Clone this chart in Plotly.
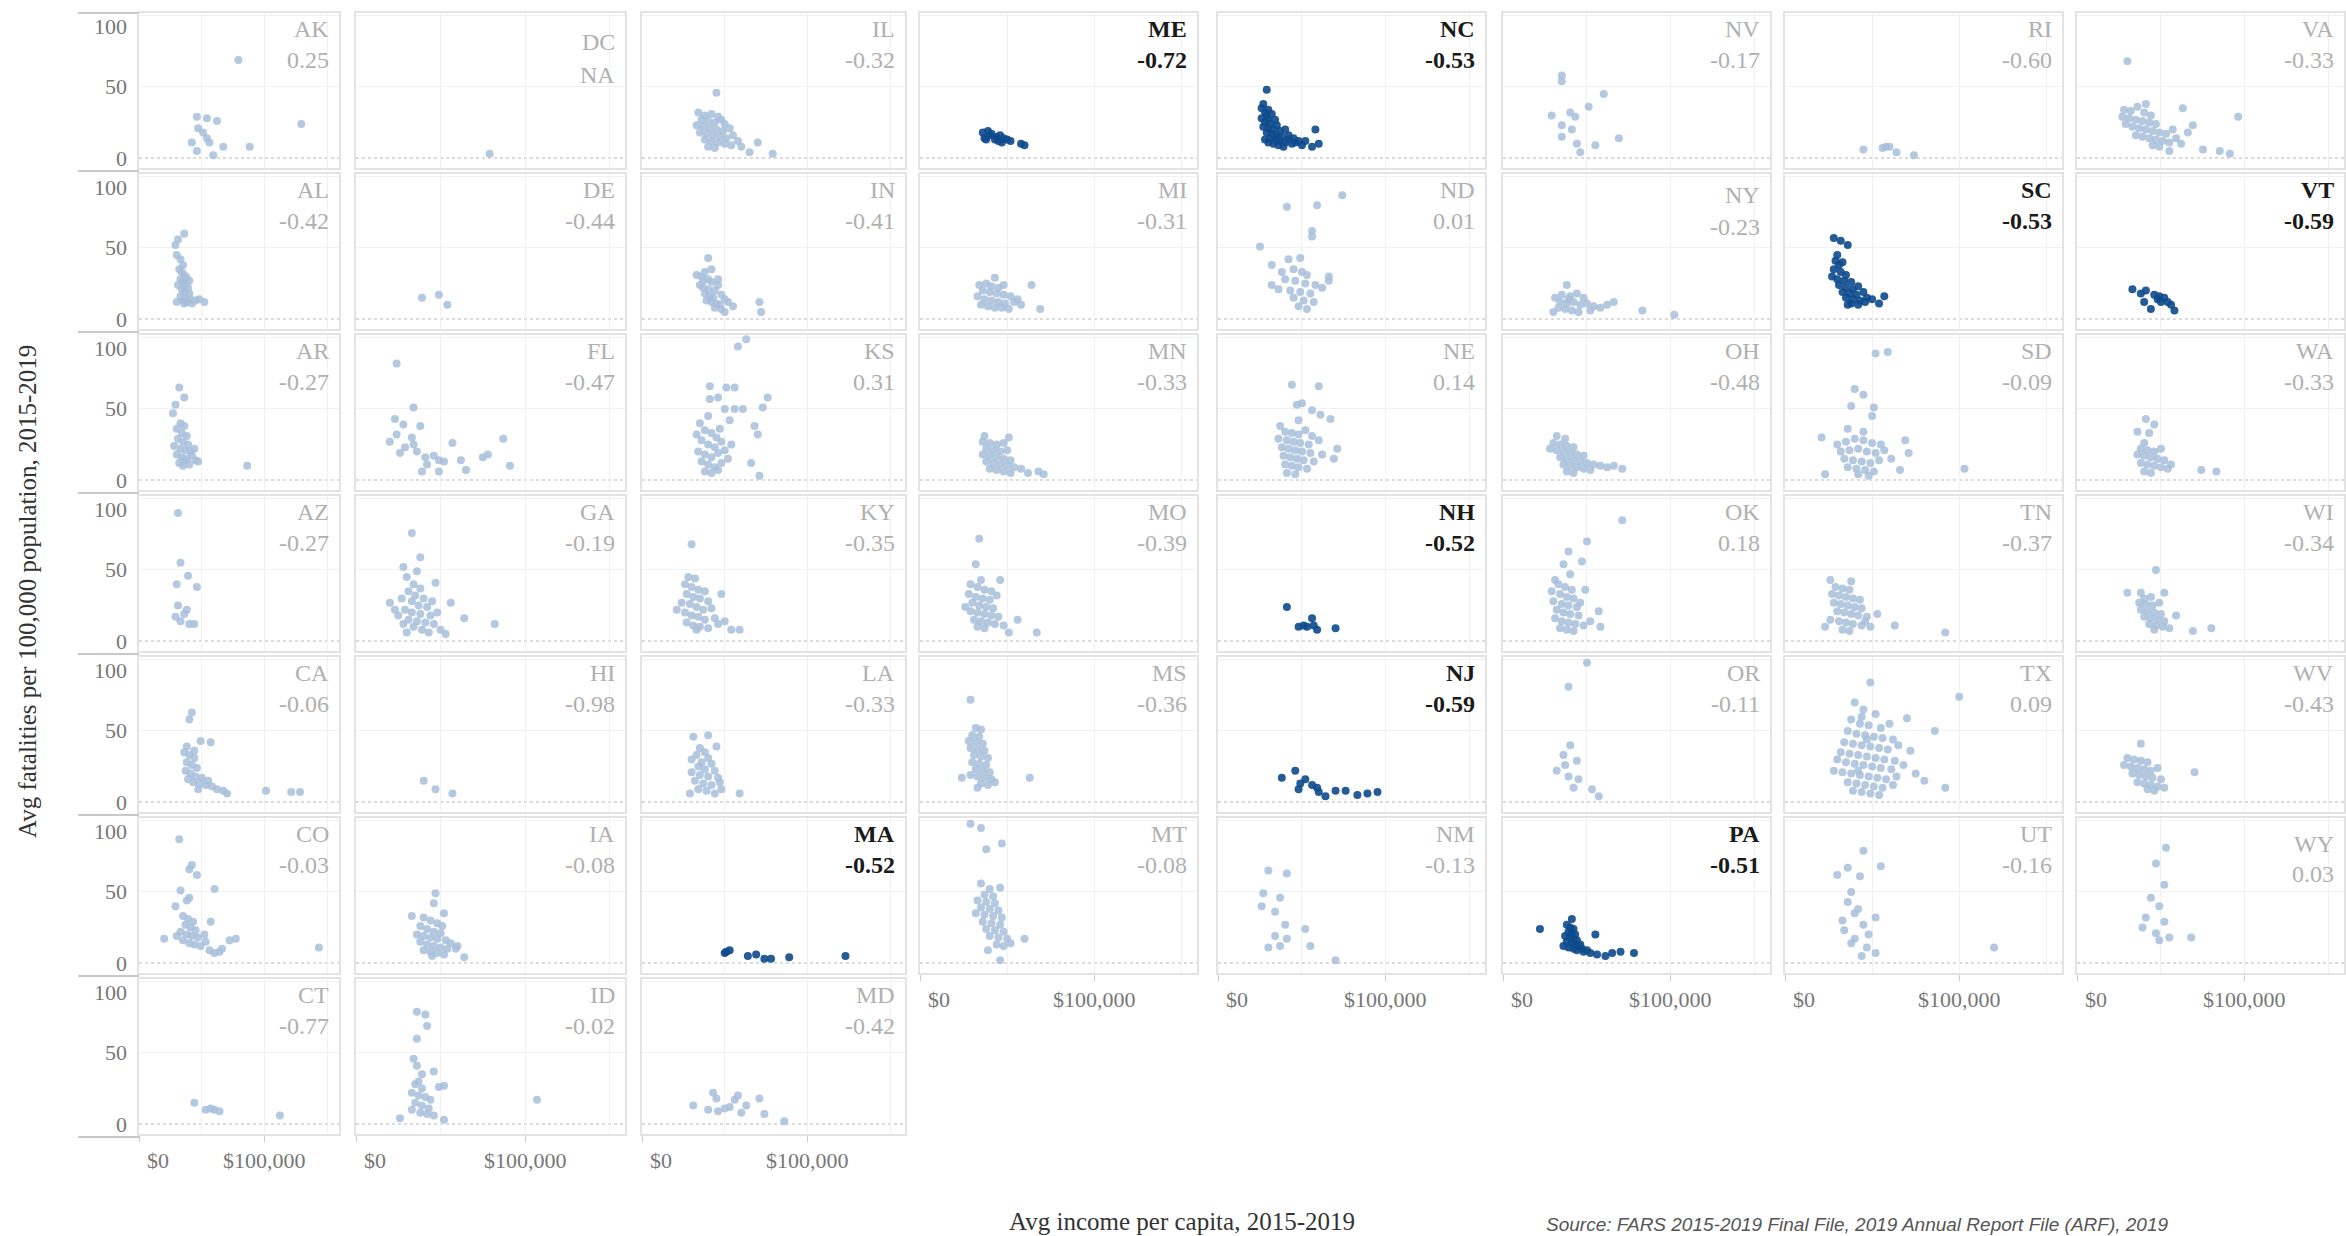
import plotly.graph_objects as go

# ---------------- data (income in $ thousands, fatalities per 100k) ----------------
COLUMNS = [
    ["AK", "AL", "AR", "AZ", "CA", "CO", "CT"],
    ["DC", "DE", "FL", "GA", "HI", "IA", "ID"],
    ["IL", "IN", "KS", "KY", "LA", "MA", "MD"],
    ["ME", "MI", "MN", "MO", "MS", "MT"],
    ["NC", "ND", "NE", "NH", "NJ", "NM"],
    ["NV", "NY", "OH", "OK", "OR", "PA"],
    ["RI", "SC", "SD", "TN", "TX", "UT"],
    ["VA", "VT", "WA", "WI", "WV", "WY"],
]

CORR = {
    "AK": "0.25", "DC": "NA", "IL": "-0.32", "ME": "-0.72", "NC": "-0.53", "NV": "-0.17", "RI": "-0.60", "VA": "-0.33",
    "AL": "-0.42", "DE": "-0.44", "IN": "-0.41", "MI": "-0.31", "ND": "0.01", "NY": "-0.23", "SC": "-0.53", "VT": "-0.59",
    "AR": "-0.27", "FL": "-0.47", "KS": "0.31", "MN": "-0.33", "NE": "0.14", "OH": "-0.48", "SD": "-0.09", "WA": "-0.33",
    "AZ": "-0.27", "GA": "-0.19", "KY": "-0.35", "MO": "-0.39", "NH": "-0.52", "OK": "0.18", "TN": "-0.37", "WI": "-0.34",
    "CA": "-0.06", "HI": "-0.98", "LA": "-0.33", "MS": "-0.36", "NJ": "-0.59", "OR": "-0.11", "TX": "0.09", "WV": "-0.43",
    "CO": "-0.03", "IA": "-0.08", "MA": "-0.52", "MT": "-0.08", "NM": "-0.13", "PA": "-0.51", "UT": "-0.16", "WY": "0.03",
    "CT": "-0.77", "ID": "-0.02", "MD": "-0.42",
}

HIGHLIGHT = ["ME", "NC", "SC", "VT", "NH", "NJ", "MA", "PA"]

PTS_AK = [(79,69),(129,24),(88,8),(46,29),(54,28),(62,26),(47,21),(51,18),(54,14),(42,11),(56,11),(67,8),(46,5),(59,2)]
PTS_DC = [(79,3)]
PTS_IL = [(45,46),(34,32),(38,30),(42,31),(46,29),(36,27),(40,26),(44,25),(48,27),(50,24),(33,23),(37,22),(41,21),(45,20),(49,19),(53,21),(35,18),(39,17),(43,16),(47,15),(51,14),(55,16),(38,13),(42,12),(46,11),(50,10),(54,9),(40,8),(44,7),(58,12),(70,11),(79,3),(65,4),(60,8)]
PTS_ME = [(36,18),(40,16),(38,13),(44,15),(48,14),(52,12),(58,10),(39,19),(43,13),(47,11),(50,13),(41,17),(45,12),(60,9),(37,14),(46,16)]
PTS_NC = [(29,48),(27,38),(28,32),(26,35),(30,34),(29,30),(32,31),(26,28),(30,27),(34,27),(28,25),(31,24),(35,23),(27,22),(30,21),(33,20),(37,19),(40,20),(29,18),(32,17),(35,16),(38,15),(42,16),(45,14),(31,14),(34,13),(37,12),(40,11),(44,10),(48,12),(30,11),(33,10),(36,9),(39,8),(50,9),(58,20),(56,8),(60,10),(42,13),(46,11),(52,12),(35,14),(28,13)]
PTS_NV = [(35,58),(35,54),(60,45),(29,30),(40,32),(43,29),(51,36),(35,23),(41,20),(35,15),(44,10),(55,9),(69,14),(46,4)]
PTS_RI = [(45,6),(56,7),(60,8),(64,4),(74,2),(58,8)]
PTS_VA = [(30,68),(63,35),(96,29),(75,6),(85,5),(91,3),(41,38),(69,23),(28,34),(32,33),(36,36),(40,32),(44,30),(27,29),(31,28),(35,27),(39,26),(43,25),(47,24),(29,24),(33,22),(37,21),(41,20),(45,19),(49,18),(53,17),(35,16),(39,15),(43,14),(47,13),(51,12),(55,11),(59,14),(62,10),(49,8),(55,5),(45,9),(66,18),(57,20)]

PTS_AL = [(36,60),(31,56),(29,52),(30,45),(33,42),(35,38),(32,35),(34,33),(36,31),(38,29),(33,28),(35,26),(37,24),(39,22),(34,21),(36,19),(40,18),(33,16),(37,15),(41,14),(35,13),(38,12),(45,13),(52,12),(30,12),(36,11),(42,11),(48,14),(31,24),(40,27)]
PTS_DE = [(39,15),(49,17),(54,10)]
PTS_IN = [(40,43),(33,31),(36,30),(38,33),(40,28),(42,26),(35,24),(37,22),(40,21),(44,20),(46,24),(38,18),(41,16),(43,15),(48,17),(50,14),(39,13),(42,12),(45,11),(47,10),(52,12),(55,9),(44,8),(48,7),(50,5),(71,12),(72,5),(37,27),(46,28),(42,35)]
PTS_MI = [(43,29),(34,24),(38,25),(41,23),(45,22),(48,24),(36,20),(40,19),(44,18),(48,17),(52,16),(33,16),(37,14),(41,13),(45,12),(49,11),(54,12),(58,10),(35,10),(39,9),(43,8),(47,8),(51,7),(64,24),(69,7),(56,14)]
PTS_ND = [(74,87),(59,80),(41,79),(56,62),(56,58),(25,51),(42,42),(49,43),(32,38),(38,33),(53,31),(66,27),(32,24),(45,35),(50,33),(40,28),(46,27),(52,25),(58,24),(36,21),(43,20),(49,19),(55,18),(62,22),(45,15),(51,13),(57,12),(48,9),(53,7),(66,30)]
PTS_NY = [(38,24),(31,15),(35,17),(40,16),(44,18),(48,15),(34,12),(38,11),(42,12),(46,10),(50,11),(54,9),(58,8),(62,10),(66,12),(33,8),(37,7),(41,6),(45,5),(52,6),(39,14),(83,6),(102,3),(30,5)]
PTS_SC = [(28,57),(32,55),(36,52),(30,45),(31,38),(27,30),(29,41),(33,40),(28,35),(32,33),(35,31),(30,28),(34,27),(38,26),(31,24),(35,22),(39,21),(42,23),(33,19),(37,18),(41,17),(45,19),(35,15),(39,14),(43,13),(47,15),(38,11),(42,10),(46,12),(50,14),(57,16),(54,11),(36,10)]
PTS_VT = [(33,21),(38,18),(41,20),(46,17),(49,16),(52,15),(56,10),(58,6),(44,7),(40,12),(50,12),(54,12),(48,14)]

PTS_AR = [(32,65),(36,58),(29,53),(27,47),(33,40),(36,38),(30,36),(34,33),(38,31),(31,29),(35,27),(39,25),(28,24),(33,22),(37,21),(41,20),(30,18),(34,16),(38,15),(42,17),(45,14),(36,13),(32,12),(40,11),(47,13),(86,10),(35,10),(44,22)]
PTS_FL = [(24,82),(34,51),(23,43),(28,39),(20,27),(24,32),(33,30),(38,38),(29,23),(36,20),(41,16),(46,17),(49,14),(39,6),(49,6),(57,26),(62,14),(65,7),(75,16),(78,18),(87,29),(91,10),(42,11),(52,13),(34,25),(26,19)]
PTS_KS = [(58,94),(63,99),(41,66),(51,65),(56,65),(41,57),(46,58),(61,50),(50,50),(56,50),(76,58),(73,51),(40,45),(53,42),(68,38),(70,32),(66,12),(71,3),(35,40),(38,35),(42,33),(45,30),(36,28),(40,25),(44,23),(48,27),(34,20),(38,18),(42,16),(46,19),(50,21),(36,13),(40,11),(44,9),(48,12),(52,15),(38,6),(42,5),(46,7),(54,25),(33,32),(47,36)]
PTS_MN = [(37,31),(51,30),(36,27),(40,26),(44,25),(48,26),(38,22),(42,21),(46,20),(50,21),(36,18),(40,17),(44,16),(48,15),(52,14),(38,13),(42,12),(46,11),(50,10),(54,9),(40,8),(44,7),(48,6),(52,5),(58,8),(68,6),(71,4),(62,5)]
PTS_NE = [(44,67),(60,66),(47,53),(50,54),(56,49),(61,46),(67,43),(37,38),(48,42),(40,34),(44,33),(48,32),(52,35),(56,31),(36,29),(41,28),(45,27),(49,26),(54,25),(60,28),(38,23),(42,22),(46,21),(50,20),(55,19),(39,17),(43,16),(47,15),(51,14),(57,13),(40,11),(44,10),(48,9),(53,8),(41,5),(46,4),(71,22),(69,15),(62,18)]
PTS_OH = [(32,31),(37,29),(30,26),(34,25),(38,24),(42,23),(28,22),(32,21),(36,20),(40,19),(44,18),(48,17),(34,16),(38,15),(42,14),(46,13),(50,12),(54,11),(36,11),(40,10),(44,9),(48,8),(52,7),(58,10),(62,9),(66,10),(71,8),(38,6),(42,5)]
PTS_SD = [(52,89),(59,90),(40,64),(45,60),(38,52),(51,51),(50,45),(36,36),(45,34),(21,30),(69,28),(71,19),(61,15),(66,7),(23,4),(103,8),(30,25),(35,27),(40,29),(45,28),(50,26),(55,25),(32,20),(37,21),(42,22),(47,20),(52,19),(57,21),(34,15),(39,14),(44,13),(49,12),(54,14),(36,9),(41,8),(46,7),(51,6),(42,4),(48,3)]
PTS_WA = [(41,43),(46,39),(36,34),(43,33),(40,26),(38,22),(42,21),(46,20),(50,22),(36,18),(40,17),(44,16),(48,15),(52,14),(38,12),(42,11),(46,10),(50,9),(54,8),(56,11),(40,6),(44,5),(74,7),(83,6)]

PTS_AZ = [(31,90),(33,55),(39,46),(30,40),(46,38),(31,25),(38,22),(29,17),(33,14),(40,12),(44,12),(36,19)]
PTS_GA = [(33,76),(38,59),(28,52),(36,49),(47,41),(20,27),(56,27),(30,45),(34,40),(38,37),(31,35),(35,32),(40,30),(27,30),(33,28),(37,25),(42,24),(29,22),(33,20),(38,19),(44,18),(25,18),(31,15),(36,14),(41,13),(46,12),(28,12),(34,10),(39,8),(43,6),(30,6),(50,8),(53,5),(64,16),(82,12),(48,20),(45,28),(23,22)]
PTS_KY = [(30,68),(48,33),(21,22),(59,8),(54,8),(28,45),(32,44),(26,40),(30,38),(34,36),(38,35),(27,33),(31,31),(35,30),(40,28),(24,27),(29,26),(33,24),(37,22),(42,23),(26,20),(30,18),(34,17),(38,15),(44,16),(27,13),(31,11),(35,10),(40,9),(46,12),(50,14),(33,8)]
PTS_MO = [(34,72),(32,54),(35,43),(46,43),(29,40),(33,38),(37,36),(41,35),(28,33),(32,31),(36,30),(40,29),(44,32),(30,27),(34,25),(38,24),(42,23),(29,21),(33,20),(37,19),(41,18),(45,17),(31,15),(35,14),(39,13),(43,12),(48,11),(33,10),(37,9),(56,15),(51,6),(67,6),(26,24)]
PTS_NH = [(41,24),(56,16),(57,11),(53,10),(48,10),(59,8),(70,9),(51,11)]
PTS_OK = [(71,85),(50,70),(39,63),(47,56),(36,54),(40,47),(31,43),(49,36),(57,21),(58,10),(33,40),(37,38),(41,36),(29,35),(34,33),(38,31),(42,30),(30,28),(35,26),(39,25),(44,24),(32,22),(36,20),(40,19),(45,18),(31,16),(35,14),(39,13),(43,12),(48,11),(34,9),(38,8),(42,7),(52,14),(46,27)]
PTS_TN = [(26,43),(38,42),(29,38),(33,37),(37,36),(27,33),(31,32),(35,31),(39,30),(43,29),(28,27),(32,26),(36,25),(40,24),(44,23),(30,21),(34,20),(38,19),(42,18),(47,17),(53,19),(26,15),(31,14),(35,13),(39,12),(44,11),(49,10),(33,8),(37,7),(23,10),(63,11),(92,6),(46,14)]
PTS_WI = [(47,50),(30,34),(38,34),(52,34),(40,30),(44,31),(37,27),(41,26),(45,25),(49,27),(38,22),(42,21),(46,20),(50,19),(40,17),(44,16),(48,15),(52,14),(43,12),(47,11),(51,10),(55,9),(59,18),(69,7),(80,9),(46,8)]

PTS_CA = [(42,63),(40,58),(38,39),(49,43),(57,42),(36,35),(40,33),(44,31),(38,28),(42,26),(46,24),(37,22),(41,20),(45,18),(50,17),(39,16),(43,14),(48,13),(53,12),(58,11),(62,9),(67,8),(55,15),(47,9),(70,6),(101,8),(121,7),(128,7),(44,36)]
PTS_HI = [(40,15),(47,9),(57,6)]
PTS_LA = [(31,46),(40,47),(45,39),(35,38),(38,35),(33,33),(40,31),(30,30),(36,28),(42,27),(34,25),(38,23),(44,22),(30,21),(35,19),(40,18),(46,17),(32,15),(37,13),(42,12),(47,14),(34,9),(39,8),(44,6),(29,6),(59,6),(48,9)]
PTS_MS = [(29,72),(32,52),(35,51),(30,47),(34,46),(28,43),(32,42),(36,41),(29,38),(33,37),(37,36),(31,33),(35,32),(39,31),(30,28),(34,27),(38,26),(32,23),(36,22),(40,21),(29,19),(33,18),(37,17),(41,16),(24,17),(35,13),(39,12),(43,14),(33,10),(63,17)]
PTS_NJ = [(38,17),(46,22),(49,13),(52,16),(56,12),(59,10),(64,4),(70,8),(76,8),(83,5),(89,6),(95,7),(48,9),(60,7)]
PTS_OR = [(50,98),(39,81),(40,40),(36,33),(44,29),(32,22),(39,18),(45,16),(42,10),(53,9),(57,4),(37,26)]
PTS_TX = [(49,84),(100,74),(70,59),(86,50),(40,70),(45,65),(52,62),(38,58),(43,55),(48,54),(55,52),(60,55),(36,50),(41,48),(46,47),(51,46),(56,45),(62,44),(34,42),(39,41),(44,40),(49,39),(54,38),(59,37),(65,40),(72,36),(32,35),(37,34),(42,33),(47,32),(52,31),(57,30),(63,29),(35,28),(40,27),(45,26),(50,25),(55,24),(61,23),(68,26),(33,21),(38,20),(43,19),(48,18),(53,17),(58,16),(64,18),(36,14),(41,13),(46,12),(51,11),(56,10),(62,12),(39,8),(44,7),(49,6),(54,5),(75,20),(80,15),(92,10),(30,30),(28,22),(42,22),(47,44),(44,60)]
PTS_WV = [(38,41),(30,31),(34,30),(38,29),(42,28),(28,26),(32,25),(36,24),(40,23),(44,22),(48,24),(33,20),(37,19),(41,18),(45,17),(50,16),(36,14),(40,13),(44,12),(48,11),(52,10),(70,21),(42,9),(46,8)]

PTS_CO = [(32,87),(42,69),(40,66),(46,62),(60,52),(33,51),(29,40),(40,46),(38,44),(57,29),(20,17),(35,33),(39,31),(43,29),(37,27),(41,25),(45,23),(33,22),(38,20),(42,19),(47,18),(35,16),(40,14),(44,13),(49,12),(53,15),(56,9),(60,7),(64,8),(66,10),(77,17),(72,16),(143,11),(30,19),(52,20)]
PTS_IA = [(47,49),(46,42),(33,33),(52,35),(40,32),(44,30),(48,28),(51,26),(38,26),(42,24),(46,22),(50,21),(36,20),(40,19),(44,18),(48,17),(53,16),(56,14),(38,15),(42,13),(46,12),(50,11),(54,10),(59,10),(40,9),(44,8),(48,7),(52,6),(60,12),(64,4),(45,5)]
PTS_MA = [(51,8),(53,9),(64,5),(69,6),(78,3),(89,4),(123,5),(50,7),(74,3)]
PTS_MT = [(29,98),(35,95),(38,80),(47,84),(35,56),(46,53),(40,52),(37,48),(42,47),(33,44),(38,43),(43,42),(35,39),(40,38),(45,37),(32,35),(37,34),(42,33),(47,32),(36,29),(41,28),(46,27),(38,24),(43,23),(48,22),(40,19),(45,18),(50,17),(60,17),(44,13),(48,12),(52,14),(46,2),(39,9)]
PTS_NM = [(30,65),(41,63),(27,49),(37,46),(26,40),(34,36),(40,27),(52,24),(34,19),(37,12),(55,12),(70,2),(41,17),(30,11)]
PTS_PA = [(22,24),(41,31),(38,27),(40,25),(42,24),(39,22),(41,21),(43,20),(37,19),(40,18),(42,17),(44,16),(38,15),(41,14),(43,13),(45,12),(39,11),(42,10),(44,9),(47,10),(50,9),(55,20),(48,8),(52,7),(56,6),(61,5),(65,7),(70,8),(78,7),(46,13),(36,12)]
PTS_UT = [(45,79),(36,67),(55,68),(43,61),(30,62),(36,43),(52,32),(34,23),(40,17),(47,11),(52,7),(120,11),(38,50),(42,38),(33,30),(45,27),(48,20),(38,14),(44,5),(40,35)]
PTS_WY = [(53,81),(47,70),(52,55),(44,46),(49,40),(41,32),(52,29),(39,25),(47,21),(55,18),(68,18),(49,16)]

PTS_CT = [(44,15),(53,10),(60,10),(64,9),(112,6),(57,11)]
PTS_ID = [(36,79),(41,77),(42,69),(36,60),(34,46),(36,41),(39,35),(46,37),(52,27),(49,26),(37,30),(35,28),(39,25),(33,22),(37,20),(41,19),(44,17),(35,15),(39,13),(43,11),(33,10),(38,8),(42,7),(46,6),(26,4),(52,3),(107,17)]
PTS_MD = [(31,13),(43,22),(45,18),(50,11),(56,17),(63,13),(71,18),(74,7),(86,2),(40,10),(53,12),(60,8),(46,9),(58,20)]

POINTS = {k[4:]: v for k, v in dict(globals()).items() if k.startswith("PTS_")}

# ---------------- styling / geometry (pixels) ----------------
W, H = 2346, 1236
COL_X = [(139, 339), (356, 625), (642, 905), (920, 1197), (1218, 1485),
         (1503, 1770), (1785, 2062), (2077, 2344)]
ROW_TOP0, ROW_STEP, ROW_H = 13, 161, 155
X_RANGE = [0, 159000]
Y_RANGE = [-7, 102]
LIGHT = "#a7bedb"
DARK = "#0d4a8c"
SERIF = "Liberation Serif, Times New Roman, serif"
LABEL_SHIFT = {"DC": (13, 15), "NY": (5, 6), "WY": (10, 9)}

def px_x(p):
    return p / W

def px_y(p):
    return 1 - p / H

fig = go.Figure()
layout = dict(
    width=W, height=H, margin=dict(l=0, r=0, t=0, b=0),
    paper_bgcolor="white", plot_bgcolor="white", showlegend=False,
    font=dict(family=SERIF, color="#777777"),
)
annotations = []
shapes = []

idx = 0
for c, col in enumerate(COLUMNS):
    x0, x1 = COL_X[c]
    for r, st in enumerate(col):
        idx += 1
        sfx = "" if idx == 1 else str(idx)
        xa, ya = "x" + sfx, "y" + sfx
        top = ROW_TOP0 + r * ROW_STEP
        bot = top + ROW_H
        hl = st in HIGHLIGHT
        pts = POINTS[st]
        fig.add_trace(go.Scatter(
            x=[p[0] * 1000 for p in pts], y=[p[1] for p in pts],
            mode="markers", xaxis=xa, yaxis=ya, hoverinfo="skip",
            marker=dict(size=8, color=DARK if hl else LIGHT, opacity=0.9 if hl else 0.85,
                        line=dict(width=0)),
        ))
        last = (r == len(col) - 1)
        layout["xaxis" + sfx] = dict(
            domain=[px_x(x0), px_x(x1)], anchor=ya, range=X_RANGE,
            tickvals=[0, 100000], showticklabels=False,
            ticks="outside" if last else "", ticklen=6, tickcolor="#cccccc",
            showgrid=True, gridcolor="#f1f1f1", gridwidth=1,
            minor=dict(tickvals=[50000, 150000], showgrid=True, gridcolor="#f1f1f1", ticks=""),
            showline=True, mirror=True, linecolor="#e3e3e3", linewidth=1.5,
            zeroline=False, fixedrange=True,
        )
        layout["yaxis" + sfx] = dict(
            domain=[px_y(bot), px_y(top)], anchor=xa, range=Y_RANGE,
            tickvals=[50, 100], showticklabels=False, ticks="",
            showgrid=True, gridcolor="#f1f1f1", gridwidth=1,
            showline=True, mirror=True, linecolor="#e3e3e3", linewidth=1.5,
            zeroline=False, fixedrange=True,
        )
        # dotted zero line
        shapes.append(dict(type="line", xref=xa + " domain", yref=ya, x0=0, x1=1, y0=0, y1=0,
                           line=dict(color="#cfcfcf", width=1.5, dash="dot"), layer="below"))
        # state label + correlation
        dy1, dy2 = LABEL_SHIFT.get(st, (0, 0))
        lab_col = "#1a1a1a" if hl else "#b0b0b0"
        annotations.append(dict(
            xref=xa + " domain", yref=ya + " domain", x=1, y=1, xanchor="right", yanchor="middle",
            xshift=-8, yshift=-16 - dy1, showarrow=False,
            text=("<b>%s</b>" % st) if hl else st,
            font=dict(family=SERIF, size=24, color=lab_col)))
        annotations.append(dict(
            xref=xa + " domain", yref=ya + " domain", x=1, y=1, xanchor="right", yanchor="middle",
            xshift=-8, yshift=-47 - dy2, showarrow=False,
            text=("<b>%s</b>" % CORR[st]) if hl else CORR[st],
            font=dict(family=SERIF, size=24, color=lab_col)))
        # y tick labels on the first column
        if c == 0:
            for v, shift in ((100, -11), (50, 0), (0, 0)):
                annotations.append(dict(
                    xref="paper", yref=ya, x=px_x(x0 - 10), y=v, xanchor="right", yanchor="middle",
                    yshift=shift, showarrow=False, text=str(v),
                    font=dict(family=SERIF, size=22, color="#777777")))
            shapes.append(dict(type="line", xref="paper", yref="paper",
                               x0=px_x(78), x1=px_x(x0), y0=px_y(bot + 3), y1=px_y(bot + 3),
                               line=dict(color="#c9c9c9", width=2)))
            if r == 0:
                shapes.append(dict(type="line", xref="paper", yref="paper",
                                   x0=px_x(78), x1=px_x(x0), y0=px_y(top), y1=px_y(top),
                                   line=dict(color="#c9c9c9", width=2)))
        # x tick labels under the last panel of each column
        if last:
            annotations.append(dict(
                xref=xa, yref="paper", x=0, y=px_y(bot + 26), xanchor="left", yanchor="middle",
                xshift=6, showarrow=False, text="$0",
                font=dict(family=SERIF, size=22, color="#777777")))
            annotations.append(dict(
                xref=xa, yref="paper", x=100000, y=px_y(bot + 26), xanchor="center", yanchor="middle",
                showarrow=False, text="$100,000",
                font=dict(family=SERIF, size=22, color="#777777")))

# axis titles and source
annotations.append(dict(
    xref="paper", yref="paper", x=px_x(27), y=px_y(592), xanchor="center", yanchor="middle",
    textangle=-90, showarrow=False, text="Avg fatalities per 100,000 population, 2015-2019",
    font=dict(family=SERIF, size=25, color="#333333")))
annotations.append(dict(
    xref="paper", yref="paper", x=px_x(1182), y=px_y(1221), xanchor="center", yanchor="middle",
    showarrow=False, text="Avg income per capita, 2015-2019",
    font=dict(family=SERIF, size=25, color="#333333")))
annotations.append(dict(
    xref="paper", yref="paper", x=px_x(1544), y=px_y(1224), xanchor="left", yanchor="middle",
    showarrow=False,
    text="<i>Source: FARS 2015-2019 Final File, 2019 Annual Report File (ARF), 2019</i>",
    font=dict(family="Liberation Sans, Arial, sans-serif", size=19, color="#555555")))

layout["annotations"] = annotations
layout["shapes"] = shapes
fig.update_layout(**layout)

fig.write_html("out.html", config={"displayModeBar": False},
               post_script="document.body.style.margin='0';document.body.style.overflow='hidden';")
